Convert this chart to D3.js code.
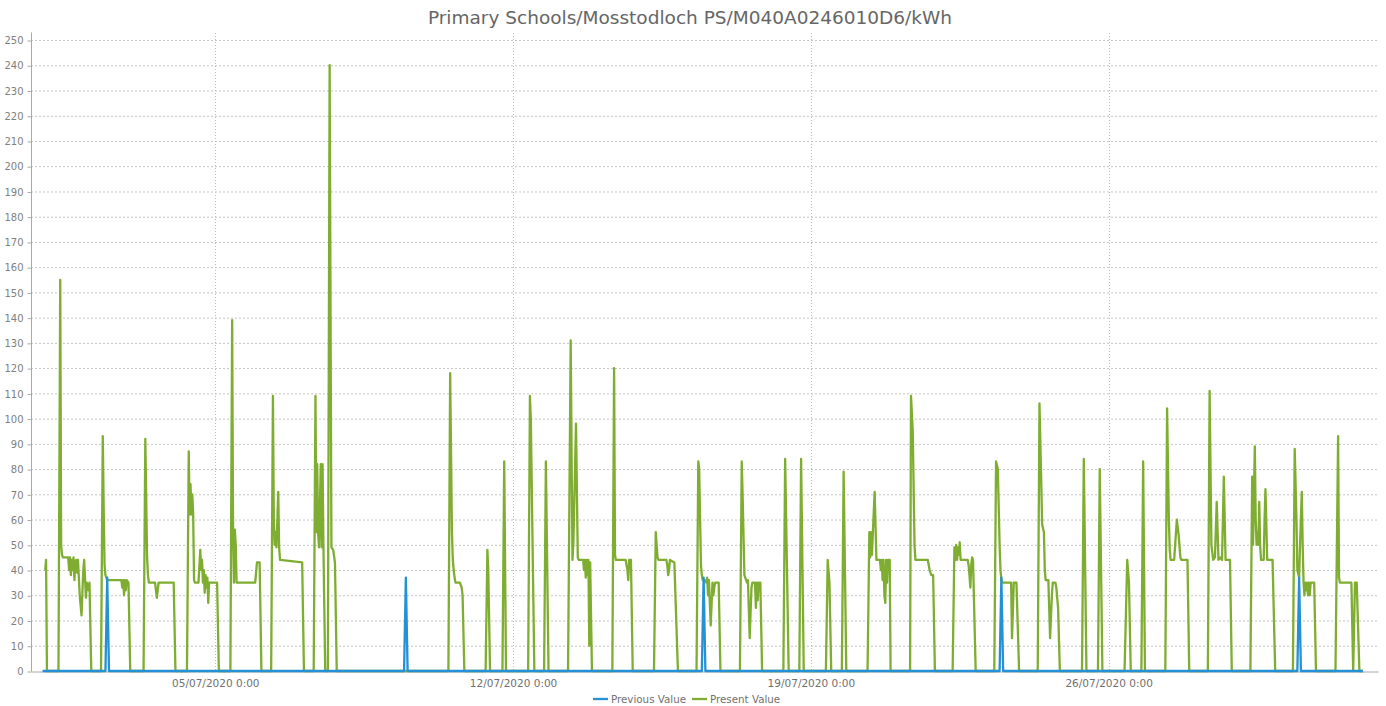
<!DOCTYPE html>
<html>
<head>
<meta charset="utf-8">
<script src="https://cdn.jsdelivr.net/npm/d3@7"></script>
<style>
  html, body { margin: 0; padding: 0; background: #fff; }
  svg { display: block; }
</style>
</head>
<body>
<script>
// Chart text
const chartTitle = "Primary Schools/Mosstodloch PS/M040A0246010D6/kWh";
const seriesNames = ["Previous Value", "Present Value"];

// Axis ticks
const yTicks = d3.range(0, 251, 10);
const xTickDates = ["2020-07-05", "2020-07-12", "2020-07-19", "2020-07-26"];

// Time window shown on the x axis
const startDate = "2020-07-01T00:00:00Z";
const domainStart = "2020-06-30T16:00:00Z";
const domainEnd = "2020-08-01T08:00:00Z";

// Readings: [hours after 01/07/2020 0:00, kWh]
const previousPoints = [
  [-1.5, 0], [34, 0], [35, 37], [36, 0],
  [202.5, 0], [203.5, 37], [204.5, 0],
  [370.5, 0], [371.5, 37], [372.5, 0],
  [538.5, 0], [539.5, 37], [540.5, 0],
  [706.5, 0], [707.5, 37], [708.5, 0],
  [743.5, 0]
];

const presentPoints = [
  // 01/07
  [0, 40], [0.5, 44], [1, 0],
  [7.5, 0], [8.5, 155], [9, 50], [9.5, 46], [10, 45], [13, 45], [13.5, 40], [14, 45], [14.5, 38],
  [15, 44], [15.5, 40], [16, 45], [16.5, 36], [17, 43], [17.5, 44], [18, 39], [18.5, 44], [19.5, 30],
  [20.5, 22], [21.5, 40], [22, 44], [23, 29], [23.5, 35], [24.5, 32], [25, 35], [26, 0],
  // 02/07
  [31.5, 0], [32.5, 93], [33, 65], [33.5, 42], [34, 38], [34.5, 37], [35, 36], [43, 36], [43.5, 33],
  [44, 36], [44.5, 30], [45, 36], [45.5, 32], [46, 36], [47, 35], [48, 0],
  // 03/07
  [55.5, 0], [56.5, 92], [57.5, 45], [58, 38], [58.5, 35], [62, 35], [63, 29], [64, 35], [72.5, 35], [73.5, 0],
  // 04/07
  [80, 0], [81, 87], [81.5, 62], [82, 74], [82.5, 62], [83, 70], [83.5, 62], [84, 36], [84.5, 35],
  [86.5, 35], [87.5, 48], [88, 40], [88.5, 44], [89, 35], [89.5, 40], [90, 31], [90.5, 38], [91, 33],
  [91.5, 37], [92, 27], [92.5, 35], [97, 35], [98, 0],
  // 05/07
  [104.5, 0], [105.5, 139], [106, 56], [106.5, 35], [107, 56], [107.5, 50], [108, 35], [118.5, 35],
  [119.5, 43], [121, 43], [122, 0],
  // 06/07
  [127.5, 0], [128.5, 109], [129, 60], [129.5, 50], [130, 55], [130.5, 49], [131.5, 71], [132, 49],
  [132.5, 44], [145, 43], [146, 0],
  // 07/07
  [151.5, 0], [152.5, 109], [153, 55], [153.5, 82], [154, 55], [154.5, 49], [155.5, 82], [156, 49],
  [156.5, 82], [157, 49], [158, 0], [159.5, 0], [160.5, 240], [161.5, 49], [162.5, 48], [163.5, 43], [164.5, 0],
  // 10/07
  [227.5, 0], [228.5, 118], [229.5, 55], [230, 44], [230.5, 40], [231, 37], [231.5, 35], [234, 35],
  [235, 33], [235.5, 30], [236.5, 0],
  // 11/07
  [248.5, 0], [249.5, 48], [250, 40], [251, 0], [258, 0], [259, 83], [260, 0],
  // 12/07
  [272.5, 0], [273.5, 109], [274, 100], [276, 0], [281.5, 0], [282.5, 83], [284, 0],
  // 13/07
  [295, 0], [296.5, 131], [297.5, 44], [298, 50], [299.5, 98], [300.5, 45], [301, 44], [303.5, 44],
  [304, 40], [304.5, 44], [305, 37], [305.5, 44], [306, 38], [306.5, 44], [307, 10], [307.5, 43], [308.5, 0],
  // 14/07
  [320, 0], [321, 120], [321.5, 46], [322, 44], [327.5, 44], [328, 42], [328.5, 40], [329, 36],
  [329.5, 44], [330.5, 44], [331.5, 0],
  // 15/07
  [343.5, 0], [344.5, 55], [345, 50], [345.5, 45], [346, 44], [350.5, 44], [351, 42], [351.5, 38],
  [352, 40], [352.5, 44], [355, 43], [357, 0],
  // 16/07
  [367.5, 0], [368.5, 83], [369, 80], [370, 42], [370.5, 38], [371, 36], [372, 36], [373, 35],
  [373.5, 37], [374, 30], [374.5, 36], [375.5, 18], [376.5, 35], [377, 30], [377.5, 33], [378, 35],
  [380, 35], [381, 0],
  // 17/07
  [392, 0], [393, 83], [393.5, 70], [394.5, 38], [395, 37], [396, 35], [396.5, 36], [397.5, 13],
  [398.5, 33], [399, 35], [400.5, 35], [401, 25], [401.5, 35], [402, 28], [402.5, 35], [403.5, 35], [404.5, 0],
  // 18/07
  [416.5, 0], [417.5, 84], [419.5, 0], [425.5, 0], [426.5, 84], [428, 0],
  // 19/07
  [440.5, 0], [441.5, 44], [442.5, 35], [443.5, 0], [449.5, 0], [450.5, 79], [452, 0],
  // 20/07
  [464, 0], [465, 55], [465.5, 45], [466, 55], [466.5, 46], [467, 55], [468, 71], [469, 44], [471, 44],
  [471.5, 40], [472, 44], [472.5, 36], [473, 44], [473.5, 30], [474, 27], [474.5, 44], [475, 35],
  [475.5, 44], [476.5, 44], [477, 0],
  // 21/07
  [488, 0], [488.5, 109], [489.5, 95], [490.5, 50], [491, 44], [498, 44], [499, 40], [500, 38], [501, 38], [502, 0],
  // 22/07
  [512, 0], [513, 49], [513.5, 44], [514, 50], [514.5, 44], [515, 49], [515.5, 46], [516, 51],
  [516.5, 44], [520.5, 44], [521, 42], [521.5, 38], [522, 33], [522.5, 42], [523, 45], [523.5, 44], [525, 0],
  // 23/07
  [535.5, 0], [536.5, 83], [537.5, 80], [538.5, 50], [539, 40], [539.5, 36], [540, 35], [545, 35],
  [545.5, 13], [546.5, 35], [548, 35], [549.5, 0],
  // 24/07
  [560, 0], [561, 106], [562, 75], [562.5, 58], [563.5, 55], [564, 40], [564.5, 36], [566, 36],
  [567, 13], [568, 30], [568.5, 35], [570, 35], [570.5, 33], [571.5, 25], [572.5, 0],
  // 25/07
  [585, 0], [586, 84], [587.5, 0], [594, 0], [595, 80], [596.5, 0],
  // 26/07
  [609, 0], [610.5, 44], [611.5, 35], [612.5, 0], [618.5, 0], [619.5, 83], [620.5, 0],
  // 27/07
  [632, 0], [633, 104], [634, 60], [634.5, 48], [635, 44], [637, 44], [638.5, 60], [639.5, 54],
  [640.5, 45], [641, 44], [644.5, 44], [645.5, 0],
  // 28/07
  [656, 0], [657, 111], [658, 50], [659, 44], [660, 45], [661, 67], [662, 44], [663, 45], [664, 44],
  [665, 77], [666, 44], [668.5, 44], [669.5, 0],
  // 29/07
  [680, 0], [681, 77], [681.5, 50], [682, 70], [682.5, 89], [683, 60], [683.5, 50], [684, 55],
  [684.5, 50], [685, 67], [685.5, 50], [686, 44], [687.5, 44], [688, 60], [688.5, 72], [689.5, 44],
  [692.5, 44], [694, 0],
  // 30/07
  [704, 0], [705, 88], [706, 60], [706.5, 40], [707.5, 37], [708, 50], [709, 71], [709.5, 50],
  [710, 35], [710.5, 30], [711, 35], [711.5, 32], [712, 35], [712.5, 30], [713, 35], [713.5, 30],
  [714, 35], [716, 35], [717, 0],
  // 31/07
  [728, 0], [729.5, 93], [730, 37], [730.5, 35], [737, 35], [738, 0], [739, 35], [740, 35], [741.5, 0], [743.5, 0]
];

const seriesColors = ["#2490d6", "#7fad32"];

const width = 1386;
const height = 706;
const margins = { top: 40, right: 8, bottom: 35, left: 31 };
const fontFamily = "'DejaVu Sans', Verdana, sans-serif";

const t0 = new Date(startDate).getTime();
const toDate = (h) => new Date(t0 + h * 3600e3);

// Create x-scale (time)
const xScale = d3
  .scaleUtc()
  .domain([new Date(domainStart), new Date(domainEnd)])
  .range([margins.left, width - margins.right]);

// Create y-scale (kWh)
const yScale = d3
  .scaleLinear()
  .domain([0, 250])
  .range([height - margins.bottom, margins.top]);

const svg = d3
  .create("svg")
  .attr("width", width)
  .attr("height", height)
  .style("background", "#fff");

// Title
svg
  .append("text")
  .attr("x", 690)
  .attr("y", 24)
  .attr("text-anchor", "middle")
  .attr("font-family", fontFamily)
  .attr("font-size", "18.5px")
  .attr("fill", "#666")
  .text(chartTitle);

// Horizontal grid
svg
  .append("g")
  .selectAll("line")
  .data(yTicks.filter((d) => d > 0))
  .join("line")
  .attr("x1", margins.left)
  .attr("x2", width - margins.right)
  .attr("y1", (d) => yScale(d) + 0.5)
  .attr("y2", (d) => yScale(d) + 0.5)
  .attr("stroke", "#c4c4c4")
  .attr("stroke-dasharray", "2,2");

// Vertical grid at date ticks
const xTicks = xTickDates.map((d) => new Date(d + "T00:00:00Z"));
svg
  .append("g")
  .selectAll("line")
  .data(xTicks)
  .join("line")
  .attr("x1", (d) => Math.round(xScale(d)) + 0.5)
  .attr("x2", (d) => Math.round(xScale(d)) + 0.5)
  .attr("y1", margins.top - 7)
  .attr("y2", height - margins.bottom)
  .attr("stroke", "#bdbdbd")
  .attr("stroke-dasharray", "1,2");

// Create y-axis
const yAxis = d3.axisLeft(yScale).tickValues(yTicks).tickSize(4).tickPadding(4);
const yG = svg
  .append("g")
  .attr("transform", `translate(${margins.left + 0.5}, 0.5)`)
  .call(yAxis);
yG.select(".domain")
  .attr("d", `M0,${margins.top - 8}V${height - margins.bottom}`)
  .attr("stroke", "#a8a8a8");
yG.selectAll(".tick line").attr("stroke", "#a8a8a8");
yG.selectAll("text")
  .attr("font-family", fontFamily)
  .attr("font-size", "10px")
  .attr("fill", "#808080");

// Create x-axis
const xAxis = d3
  .axisBottom(xScale)
  .tickValues(xTicks)
  .tickSize(0)
  .tickPadding(8)
  .tickFormat(d3.utcFormat("%d/%m/%Y %-H:%M"));
const xG = svg
  .append("g")
  .attr("transform", `translate(0, ${height - margins.bottom + 0.5})`)
  .call(xAxis);
xG.select(".domain").attr("stroke", "#a8a8a8");
xG.selectAll("text")
  .attr("font-family", fontFamily)
  .attr("font-size", "10.5px")
  .attr("fill", "#707070");

// Lines
const line = d3
  .line()
  .x((d) => xScale(toDate(d[0])))
  .y((d) => yScale(d[1]));

svg
  .append("path")
  .datum(presentPoints)
  .attr("fill", "none")
  .attr("stroke", seriesColors[1])
  .attr("stroke-width", 2.3)
  .attr("stroke-linejoin", "round")
  .attr("d", line);

svg
  .append("path")
  .datum(previousPoints)
  .attr("fill", "none")
  .attr("stroke", seriesColors[0])
  .attr("stroke-width", 2.3)
  .attr("stroke-linejoin", "round")
  .attr("d", line);

// Legend
const legendX = [593, 692];
const legend = svg
  .append("g")
  .selectAll("g")
  .data(seriesNames)
  .join("g")
  .attr("transform", (d, i) => `translate(${legendX[i]}, 699)`);
legend
  .append("line")
  .attr("x1", 0)
  .attr("x2", 15)
  .attr("stroke", (d, i) => seriesColors[i])
  .attr("stroke-width", 2.3);
legend
  .append("text")
  .attr("x", 18)
  .attr("dy", "0.35em")
  .attr("font-family", fontFamily)
  .attr("font-size", "10.3px")
  .attr("fill", "#707070")
  .text((d) => d);

document.body.appendChild(svg.node());
</script>
</body>
</html>
